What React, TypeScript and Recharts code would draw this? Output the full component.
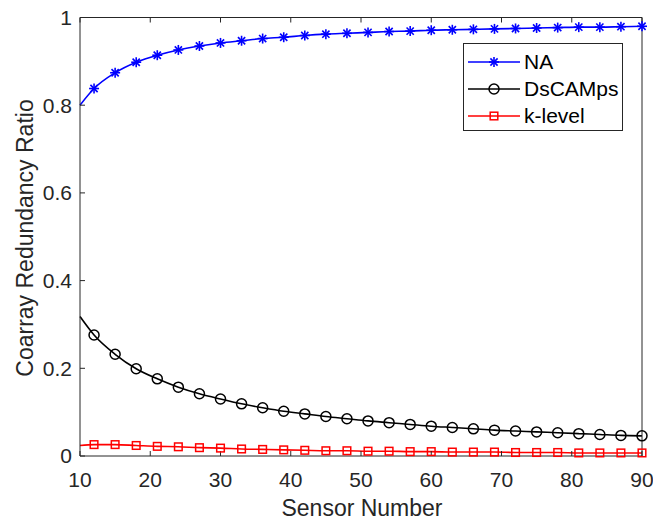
import React from 'react';
import { LineChart, Line, XAxis, YAxis, Legend } from 'recharts';

const FONT = '"Liberation Sans", Arial, Helvetica, sans-serif';
const AXIS_COLOR = '#262626';

// sensor numbers (first point has no marker, like the MATLAB plot)
const sensorNumbers = [10, 12, 15, 18, 21, 24, 27, 30, 33, 36, 39, 42, 45, 48, 51, 54, 57, 60, 63, 66, 69, 72, 75, 78, 81, 84, 87, 90];
const naRatio = [0.800, 0.838, 0.874, 0.898, 0.914, 0.926, 0.935, 0.942, 0.947, 0.952, 0.955, 0.959, 0.962, 0.964, 0.966, 0.968, 0.969, 0.971, 0.972, 0.973, 0.974, 0.975, 0.976, 0.977, 0.978, 0.978, 0.979, 0.980];
const dsRatio = [0.318, 0.276, 0.232, 0.199, 0.176, 0.157, 0.142, 0.130, 0.119, 0.110, 0.102, 0.096, 0.090, 0.085, 0.080, 0.076, 0.072, 0.068, 0.065, 0.062, 0.059, 0.057, 0.055, 0.053, 0.051, 0.049, 0.047, 0.046];
const kRatio = [0.024, 0.026, 0.026, 0.024, 0.022, 0.021, 0.019, 0.018, 0.016, 0.015, 0.014, 0.013, 0.012, 0.012, 0.011, 0.011, 0.010, 0.010, 0.009, 0.009, 0.009, 0.008, 0.008, 0.008, 0.007, 0.007, 0.007, 0.007];

const xTicks = [10, 20, 30, 40, 50, 60, 70, 80, 90];
const yTicks = [0, 0.2, 0.4, 0.6, 0.8, 1];

const seriesInfo = [
  { key: 'na', name: 'NA', color: '#0000ff', marker: 'star' },
  { key: 'ds', name: 'DsCAMps', color: '#000000', marker: 'circle' },
  { key: 'k', name: 'k-level', color: '#ff0000', marker: 'square' },
];

const data = sensorNumbers.map((x, i) => ({ x, na: naRatio[i], ds: dsRatio[i], k: kRatio[i] }));

function Marker({ type, cx, cy, color }: { type: string; cx: number; cy: number; color: string }) {
  if (type === 'star') {
    const r = 5;
    const d = r * 0.72;
    return (
      <g stroke={color} strokeWidth={1.6}>
        <line x1={cx - r} y1={cy} x2={cx + r} y2={cy} />
        <line x1={cx} y1={cy - r} x2={cx} y2={cy + r} />
        <line x1={cx - d} y1={cy - d} x2={cx + d} y2={cy + d} />
        <line x1={cx - d} y1={cy + d} x2={cx + d} y2={cy - d} />
      </g>
    );
  }
  if (type === 'circle') {
    return <circle cx={cx} cy={cy} r={5} fill="none" stroke={color} strokeWidth={1.5} />;
  }
  return <rect x={cx - 3.8} y={cy - 3.8} width={7.6} height={7.6} fill="none" stroke={color} strokeWidth={1.5} />;
}

function makeDot(type: string, color: string) {
  return (props: any) => {
    const { cx, cy, index } = props;
    if (index === 0 || cx == null || cy == null) return <g key={`d-${type}-${index}`} />;
    return (
      <g key={`d-${type}-${index}`}>
        <Marker type={type} cx={cx} cy={cy} color={color} />
      </g>
    );
  };
}

function renderLegend() {
  return (
    <div style={{ width: 160, height: 88, border: `1px solid ${AXIS_COLOR}`, background: '#fff', boxSizing: 'border-box', paddingTop: 5, fontFamily: FONT }}>
      {seriesInfo.map(s => (
        <div key={s.key} style={{ display: 'flex', alignItems: 'center', height: 26.7 }}>
          <svg width={60} height={20} style={{ flex: 'none' }}>
            <line x1={4} y1={10} x2={56} y2={10} stroke={s.color} strokeWidth={1.5} />
            <Marker type={s.marker} cx={30} cy={10} color={s.color} />
          </svg>
          <span style={{ fontSize: 21, color: '#000', lineHeight: '22px' }}>{s.name}</span>
        </div>
      ))}
    </div>
  );
}

export default function App() {
  const tickStyle = { fill: AXIS_COLOR, fontSize: 21, fontFamily: FONT };
  return (
    <div style={{ position: 'absolute', left: 0, top: 0, width: 653, height: 520, background: '#fff', fontFamily: FONT }}>
      <LineChart width={653} height={520} data={data} margin={{ top: 16.5, right: 10, bottom: 0, left: 0 }}>
        <XAxis
          dataKey="x" type="number" domain={[10, 90]} ticks={xTicks} height={64}
          stroke={AXIS_COLOR} tickSize={-5} tickMargin={21} tick={tickStyle} interval={0}
          label={{
            content: () => (
              <text x={362} y={515.5} textAnchor="middle" fill={AXIS_COLOR} fontSize={23} fontFamily={FONT}>Sensor Number</text>
            ),
          }}
        />
        <XAxis xAxisId="top" orientation="top" dataKey="x" type="number" domain={[10, 90]} ticks={xTicks} height={1}
          stroke={AXIS_COLOR} tickSize={-5} tickFormatter={() => ''} interval={0} />
        <YAxis
          type="number" domain={[0, 1]} ticks={yTicks} width={80}
          stroke={AXIS_COLOR} tickSize={-5} tickMargin={13} tick={tickStyle} interval={0}
          tickFormatter={(v: number) => String(v)}
          label={{
            content: () => (
              <text x={33} y={238} transform="rotate(-90 33 238)" textAnchor="middle" fill={AXIS_COLOR} fontSize={23} fontFamily={FONT}>Coarray Redundancy Ratio</text>
            ),
          }}
        />
        <YAxis yAxisId="right" orientation="right" type="number" domain={[0, 1]} ticks={yTicks} width={1}
          stroke={AXIS_COLOR} tickSize={-5} tickFormatter={() => ''} interval={0} />
        <Legend
          layout="horizontal" verticalAlign="middle" align="center"
          content={renderLegend}
          wrapperStyle={{ left: 463, top: 43, width: 160, height: 88 }}
        />
        {seriesInfo.map(s => (
          <Line
            key={s.key}
            dataKey={s.key}
            name={s.name}
            type="monotone"
            stroke={s.color}
            strokeWidth={1.6}
            dot={makeDot(s.marker, s.color)}
            activeDot={false}
            isAnimationActive={false}
          />
        ))}
      </LineChart>
    </div>
  );
}
